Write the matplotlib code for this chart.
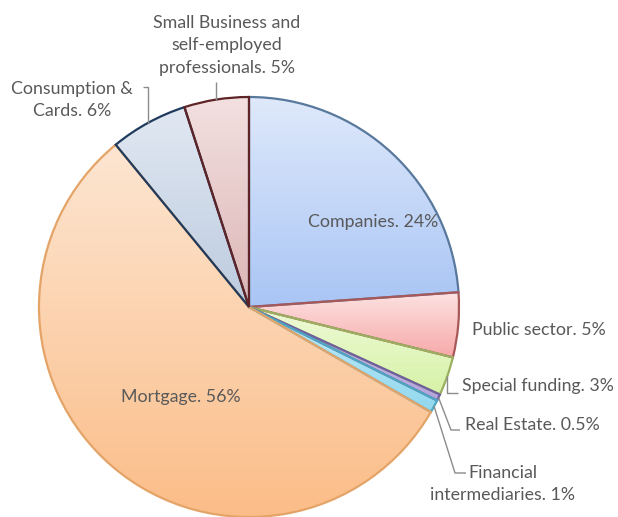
import numpy as np
import matplotlib
matplotlib.use("Agg")
import matplotlib.pyplot as plt
from matplotlib.colors import LinearSegmentedColormap

# ---- data ----
categories = ["Companies", "Public sector", "Special funding", "Real Estate",
              "Financial intermediaries", "Mortgage", "Consumption & Cards",
              "Small Business and self-employed professionals"]
values = [24, 5, 3, 0.5, 1, 56, 6, 5]
label_texts = ["Companies. 24%", "Public sector. 5%", "Special funding. 3%",
               "Real Estate. 0.5%", "Financial\nintermediaries. 1%",
               "Mortgage. 56%", "Consumption &\nCards. 6%",
               "Small Business and\nself-employed\nprofessionals. 5%"]

# ---- styles ----
top_colors = ["#dfe9fb", "#fde3e3", "#eefad8", "#cfc4ea", "#c2ecf8",
              "#fde6d2", "#e1e8f2", "#f3e0e0"]
bot_colors = ["#a9c5f5", "#f7a9a9", "#d6f2a6", "#b4a4dc", "#92d8ee",
              "#fbbd88", "#bccbdf", "#dcb5b5"]
edge_colors = ["#58789c", "#a85858", "#9aaf60", "#6f5fa0", "#4ea6c0",
               "#e4a468", "#1f3a5c", "#5e2428"]

W, H = 618, 517
cx, cy, R = 249, H - 307, 210

fig = plt.figure(figsize=(6.18, 5.17), dpi=100)
ax = fig.add_axes([0, 0, 1, 1])

wedges, _ = ax.pie(values, startangle=90, counterclock=False,
                   center=(cx, cy), radius=R,
                   wedgeprops=dict(linewidth=1.6))

for w, tc, bc, ec in zip(wedges, top_colors, bot_colors, edge_colors):
    w.set_facecolor("none")
    w.set_edgecolor(ec)
    w.set_zorder(3)
    ext = w.get_path().get_extents()
    cmap = LinearSegmentedColormap.from_list("g", [bc, tc])
    grad = np.linspace(0, 1, 256).reshape(-1, 1)
    im = ax.imshow(grad, cmap=cmap, extent=[ext.x0, ext.x1, ext.y0, ext.y1],
                   origin="lower", aspect="auto", zorder=2,
                   interpolation="bilinear")
    im.set_clip_path(w)

txt_kw = dict(color="#595959", fontsize=12.8, family="Lato",
              ha="center", va="center", multialignment="center",
              linespacing=1.5)

def edge_pt(i, rr=R):
    w = wedges[i]
    a = np.deg2rad((w.theta1 + w.theta2) / 2)
    return cx + rr * np.cos(a), cy + rr * np.sin(a)

# label positions (pixel coords from top)
pos = [(373, 222), (539, 330), (538, 386), (532, 425), (503, 484),
       (181, 397), (72, 100), (227, 45)]
for t, (x, y) in zip(label_texts, pos):
    ax.text(x, H - y, t, zorder=5, **txt_kw)

lc = dict(color="#8c8c8c", lw=1.0, zorder=4, solid_capstyle="butt")
# Special funding leader
x0, y0 = edge_pt(2)
ax.plot([x0, x0, 458], [y0, H - 393, H - 393], **lc)
# Real Estate leader
x0, y0 = edge_pt(3)
ax.plot([x0, 451, 460], [y0, H - 430, H - 430], **lc)
# Financial leader
x0, y0 = edge_pt(4)
ax.plot([x0, 455, 466], [y0, H - 473, H - 473], **lc)
# Consumption leader
x0, y0 = edge_pt(6)
ax.plot([x0, x0, 143], [y0, H - 87, H - 87], **lc)
# Small business leader
x0, y0 = edge_pt(7)
ax.plot([x0, x0], [y0, H - 82], **lc)

ax.set_xlim(0, W)
ax.set_ylim(0, H)
ax.set_aspect("equal")
ax.axis("off")
fig.savefig("out.png", dpi=100, facecolor="white")
